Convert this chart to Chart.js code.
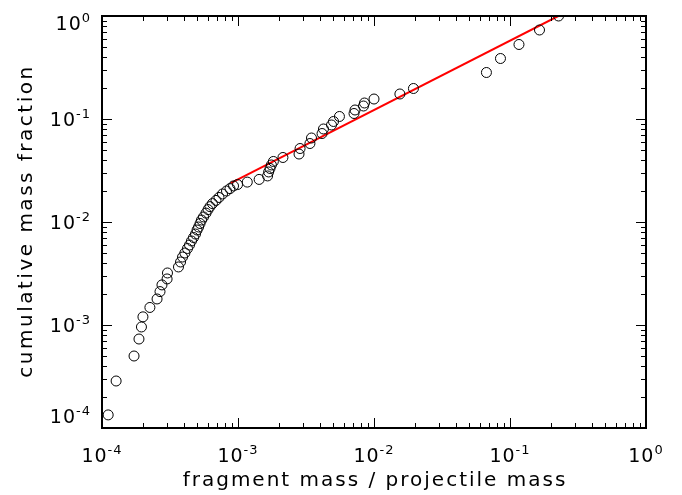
<!DOCTYPE html>
<html>
<head>
<meta charset="utf-8">
<script src="https://cdn.jsdelivr.net/npm/chart.js"></script>
<style>
  body { margin: 0; background: #fff; }
</style>
</head>
<body>
<canvas id="fragChart" width="682" height="495"></canvas>

<script>
    // fragment mass / projectile mass
    const massRatio = [
        1.11e-4, 1.27e-4, 1.72e-4, 1.87e-4, 1.95e-4, 2.00e-4, 2.25e-4, 2.54e-4, 2.67e-4, 2.76e-4,
        3.01e-4, 3.03e-4, 3.65e-4, 3.78e-4, 3.91e-4, 4.07e-4, 4.25e-4, 4.40e-4, 4.55e-4, 4.71e-4,
        4.87e-4, 5.00e-4, 5.13e-4, 5.26e-4, 5.39e-4, 5.58e-4, 5.82e-4, 6.02e-4, 6.22e-4, 6.49e-4,
        6.89e-4, 7.25e-4, 7.69e-4, 8.23e-4, 8.73e-4, 9.27e-4, 9.92e-4, 1.17e-3, 1.43e-3, 1.65e-3,
        1.68e-3, 1.72e-3, 1.76e-3, 1.82e-3, 2.14e-3, 2.81e-3, 2.86e-3, 3.38e-3, 3.47e-3, 4.15e-3,
        4.25e-3, 4.87e-3, 5.04e-3, 5.57e-3, 7.13e-3, 7.25e-3, 8.37e-3, 8.51e-3, 1.00e-2, 1.55e-2,
        1.95e-2, 0.0671, 0.0851, 0.1164, 0.1648, 0.2275
    ];
    // cumulative mass fraction
    const cumFraction = [
        1.34e-4, 2.86e-4, 5.00e-4, 7.31e-4, 9.57e-4, 1.20e-3, 1.48e-3, 1.79e-3, 2.11e-3, 2.45e-3,
        2.80e-3, 3.20e-3, 3.66e-3, 4.09e-3, 4.57e-3, 5.00e-3, 5.53e-3, 5.98e-3, 6.54e-3, 7.07e-3,
        7.64e-3, 8.36e-3, 8.94e-3, 9.67e-3, 1.045e-2, 1.12e-2, 1.22e-2, 1.32e-2, 1.41e-2, 1.51e-2,
        1.62e-2, 1.73e-2, 1.87e-2, 2.00e-2, 2.11e-2, 2.24e-2, 2.31e-2, 2.44e-2, 2.59e-2, 2.80e-2,
        3.06e-2, 3.31e-2, 3.58e-2, 3.87e-2, 4.23e-2, 4.57e-2, 5.17e-2, 5.78e-2, 6.54e-2, 7.23e-2,
        8.00e-2, 8.75e-2, 9.46e-2, 0.1058, 0.1131, 0.1223, 0.1337, 0.1430, 0.1563, 0.1749,
        0.1978, 0.2828, 0.3867, 0.5289, 0.7314, 1.0
    ];

    // power-law fit (red line), end points
    const fitX = [8.83e-4, 0.2265];
    const fitY = [0.0238, 1.0];

    // decade exponents for the tick labels
    const tickExponents = [-4, -3, -2, -1, 0];
    const minorSteps = [2, 3, 4, 5, 6, 7, 8, 9];

    const xTitle = 'fragment mass / projectile mass';
    const yTitle = 'cumulative mass fraction';

    const fontFamily = "'DejaVu Sans', 'Liberation Sans', sans-serif";

    // IDL style box: ticks inside on all four sides, labels 10^n, axis titles
    const idlAxes = {
        id: 'idlAxes',
        afterDatasetsDraw(chart) {
            const { ctx, chartArea: a } = chart;
            const xs = chart.scales.x, ys = chart.scales.y;
            ctx.save();
            ctx.strokeStyle = '#000';
            ctx.lineWidth = 1;
            ctx.beginPath();
            tickExponents.forEach((e, i) => {
                const v = Math.pow(10, e);
                const px = Math.round(xs.getPixelForValue(v)) + 0.5;
                const py = Math.round(ys.getPixelForValue(v)) + 0.5;
                ctx.moveTo(px, a.bottom); ctx.lineTo(px, a.bottom - 10);
                ctx.moveTo(px, a.top); ctx.lineTo(px, a.top + 10);
                ctx.moveTo(a.left, py); ctx.lineTo(a.left + 10, py);
                ctx.moveTo(a.right, py); ctx.lineTo(a.right - 10, py);
                if (i === tickExponents.length - 1) return;
                minorSteps.forEach(m => {
                    const mv = m * v;
                    const mx = Math.round(xs.getPixelForValue(mv)) + 0.5;
                    const my = Math.round(ys.getPixelForValue(mv)) + 0.5;
                    ctx.moveTo(mx, a.bottom); ctx.lineTo(mx, a.bottom - 5);
                    ctx.moveTo(mx, a.top); ctx.lineTo(mx, a.top + 5);
                    ctx.moveTo(a.left, my); ctx.lineTo(a.left + 5, my);
                    ctx.moveTo(a.right, my); ctx.lineTo(a.right - 5, my);
                });
            });
            ctx.stroke();

            ctx.lineWidth = 2;
            ctx.strokeRect(a.left, a.top, a.right - a.left, a.bottom - a.top);

            // tick labels
            ctx.fillStyle = '#000';
            ctx.letterSpacing = '1px';
            const base = '19px ' + fontFamily, sup = '13px ' + fontFamily;
            const drawLabel = (e, cx, cy, align) => {
                const expTxt = e === 0 ? '0' : '-' + Math.abs(e);
                ctx.font = base; const w1 = ctx.measureText('10').width;
                ctx.font = sup; const w2 = ctx.measureText(expTxt).width;
                const x0 = align === 'center' ? cx - (w1 + w2) / 2 : cx - (w1 + w2);
                ctx.textAlign = 'left';
                ctx.textBaseline = 'middle';
                ctx.font = base; ctx.fillText('10', x0, cy);
                ctx.textBaseline = 'alphabetic';
                ctx.font = sup; ctx.fillText(expTxt, x0 + w1, cy - 3);
            };
            tickExponents.forEach(e => {
                const v = Math.pow(10, e);
                drawLabel(e, xs.getPixelForValue(v), a.bottom + 29, 'center');
                const py = Math.min(ys.getPixelForValue(v) + 2, a.bottom - 10);
                drawLabel(e, a.left - 11, Math.max(py, a.top + 9), 'right');
            });

            // axis titles
            ctx.font = '20px ' + fontFamily;
            ctx.letterSpacing = '2px';
            ctx.textAlign = 'center';
            ctx.textBaseline = 'middle';
            ctx.fillText(xTitle, (a.left + a.right) / 2 + 1, 481);
            ctx.letterSpacing = '2.5px';
            ctx.translate(27, (a.top + a.bottom) / 2);
            ctx.rotate(-Math.PI / 2);
            ctx.fillText(yTitle, 1, 0);
            ctx.restore();
        }
    };

    new Chart(document.getElementById('fragChart'), {
        type: 'scatter',
        data: {
            datasets: [
                {
                    label: 'fragments',
                    data: massRatio.map((m, i) => ({ x: m, y: cumFraction[i] })),
                    pointStyle: 'circle',
                    pointRadius: 5,
                    pointHoverRadius: 5,
                    borderColor: '#000',
                    borderWidth: 1,
                    backgroundColor: 'rgba(0,0,0,0)',
                    clip: 0
                },
                {
                    label: 'fit',
                    type: 'line',
                    data: fitX.map((m, i) => ({ x: m, y: fitY[i] })),
                    borderColor: '#ff0000',
                    borderWidth: 2,
                    pointRadius: 0,
                    fill: false,
                    clip: 0
                }
            ]
        },
        options: {
            responsive: false,
            animation: false,
            events: [],
            layout: { padding: { top: 16, right: 36, left: 0, bottom: 0 } },
            plugins: { legend: { display: false }, tooltip: { enabled: false } },
            scales: {
                x: {
                    type: 'logarithmic',
                    min: 1e-4,
                    max: 1,
                    grid: { display: false },
                    border: { display: false },
                    ticks: { display: false },
                    afterFit(scale) { scale.height = 67; }
                },
                y: {
                    type: 'logarithmic',
                    min: 1e-4,
                    max: 1,
                    grid: { display: false },
                    border: { display: false },
                    ticks: { display: false },
                    afterFit(scale) { scale.width = 102; }
                }
            }
        },
        plugins: [idlAxes]
    });
</script>
</body>
</html>
